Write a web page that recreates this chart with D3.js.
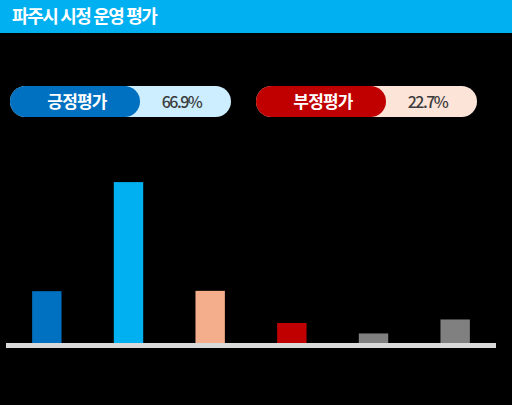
<!DOCTYPE html>
<html><head><meta charset="utf-8">
<script src="https://cdn.jsdelivr.net/npm/d3@7"></script>
<style>
html,body{margin:0;padding:0;background:#000;}
svg{display:block;}
text{font-family:"Noto Sans CJK KR","Noto Sans",sans-serif;}
</style></head>
<body>
<svg id="chart" width="512" height="405"></svg>
<script>
const title = "파주시 시정 운영 평가";
const categories = ["매우 잘함", "대체로 잘함", "대체로 잘못함", "매우 잘못함", "보통", "모름/무응답"];
const values = [16.3, 50.6, 16.4, 6.3, 3.0, 7.4];
const barColors = ["#0070C0", "#00B0F0", "#F4AE8B", "#C00000", "#808080", "#808080"];
const summaryLabels = ["긍정평가", "부정평가"];
const summaryValues = ["66.9%", "22.7%"];
const summaryDark = ["#0070C0", "#C00000"];
const summaryLight = ["#CDEEFF", "#FDE4D9"];

const svg = d3.select("#chart");
svg.append("rect").attr("x",0).attr("y",0).attr("width",512).attr("height",405).attr("fill","#000");

// header
svg.append("rect").attr("x",0).attr("y",0).attr("width",512).attr("height",33).attr("fill","#00B0F0");
svg.append("text").attr("x",12).attr("y",23).attr("fill","#fff")
  .attr("font-size",18).attr("font-weight",700).attr("letter-spacing",-1.4)
  .text(title);

// summary pills
const pillX = [10, 256], pillW = 221, pillY = 86, pillH = 31, darkW = 130;
summaryLabels.forEach((lab, i) => {
  const g = svg.append("g").attr("transform", `translate(${pillX[i]},${pillY})`);
  g.append("rect").attr("width",pillW).attr("height",pillH).attr("rx",pillH/2).attr("fill",summaryLight[i]);
  g.append("rect").attr("width",darkW).attr("height",pillH).attr("rx",pillH/2).attr("fill",summaryDark[i]);
  g.append("text").attr("x",67).attr("y",22).attr("text-anchor","middle")
    .attr("fill","#fff").attr("font-size",17).attr("font-weight",700).attr("letter-spacing",-0.8).text(lab);
  g.append("text").attr("x",darkW + (pillW-darkW)/2 - 4).attr("y",21.5).attr("text-anchor","middle")
    .attr("fill","#3b3b3b").attr("font-size",16).attr("font-weight",500).attr("letter-spacing",-1.5).text(summaryValues[i]);
});

// bars
const x = d3.scaleBand().domain(categories).range([6, 496]).paddingInner(0.64).paddingOuter(0.32);
const y = d3.scaleLinear().domain([0, 60]).range([343, 343 - 60*3.18]);

svg.append("g").selectAll("rect").data(values).join("rect")
  .attr("x", (d,i) => x(categories[i]))
  .attr("y", d => y(d))
  .attr("width", x.bandwidth())
  .attr("height", d => y(0) - y(d) + 1)
  .attr("fill", (d,i) => barColors[i]);

// baseline
svg.append("rect").attr("x",6).attr("y",343).attr("width",490).attr("height",5).attr("fill","#D9D9D9");
</script>
</body></html>
